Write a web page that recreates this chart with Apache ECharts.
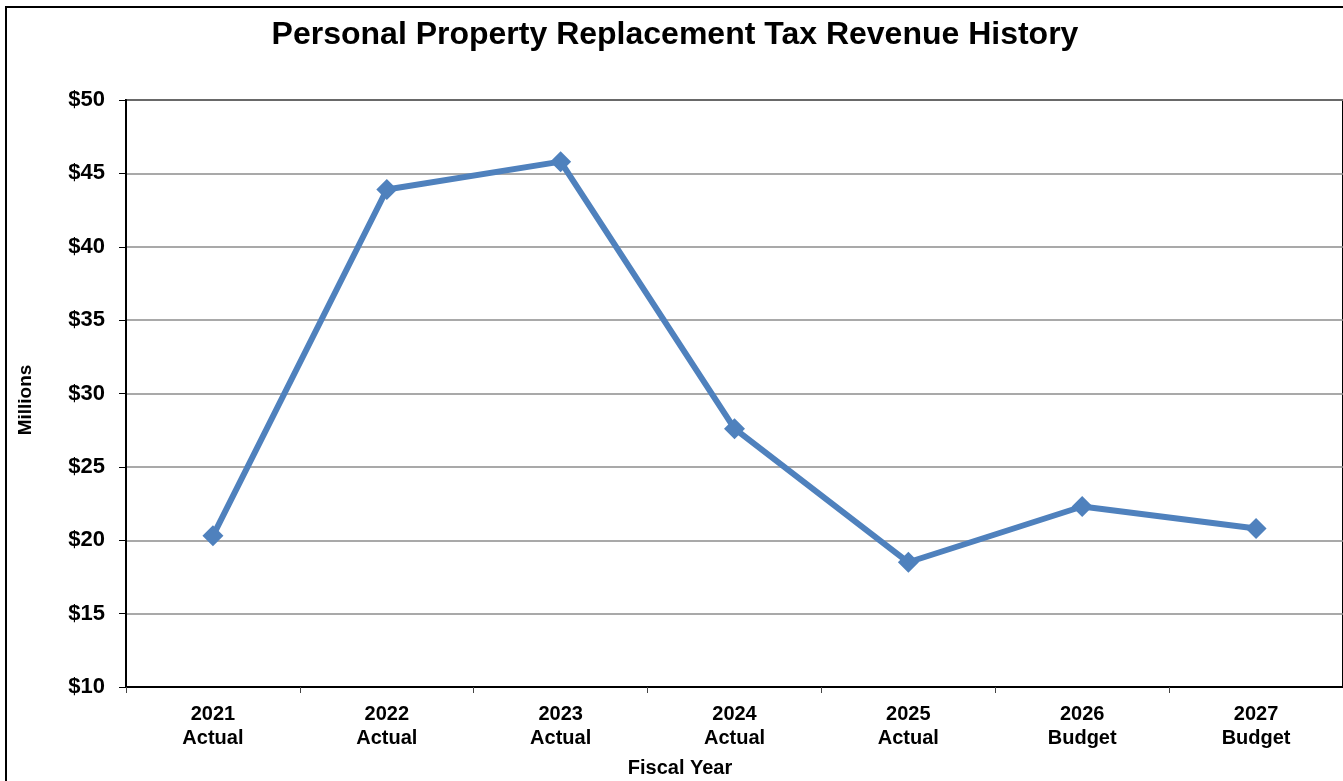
<!DOCTYPE html>
<html><head><meta charset="utf-8">
<script src="https://cdn.jsdelivr.net/npm/echarts@6/dist/echarts.min.js"></script>
<style>html,body{margin:0;padding:0;background:#fff}#c{width:1343px;height:781px}</style>
</head><body><div id="c"></div>
<script>
const categories = ['2021\nActual','2022\nActual','2023\nActual','2024\nActual','2025\nActual','2026\nBudget','2027\nBudget'];
const revenue = [20.3, 43.9, 45.8, 27.6, 18.5, 22.3, 20.8];
const yTicks = [10, 15, 20, 25, 30, 35, 40, 45, 50];

const chart = echarts.init(document.getElementById('c'), null, {renderer:'canvas'});
const FONT = '"Liberation Sans", Arial, sans-serif';
chart.setOption({
  animation: false,
  backgroundColor: '#fff',
  title: {
    text: 'Personal Property Replacement Tax Revenue History',
    left: 670, top: 14, textAlign: 'center',
    textStyle: {fontFamily: FONT, fontWeight: 'bold', fontSize: 32, color: '#000'}
  },
  graphic: [{
    type: 'rect', shape: {x: 6, y: 7, width: 1360, height: 800},
    style: {fill: null, stroke: '#000', lineWidth: 2}, silent: true, z: -1
  }, {
    type: 'text', x: 680, y: 768,
    style: {text: 'Fiscal Year', fontFamily: FONT, fontWeight: 'bold', fontSize: 20, fill: '#000', align: 'center', verticalAlign: 'middle'}
  }, {
    type: 'text', x: 26, y: 400, rotation: Math.PI / 2,
    style: {text: 'Millions', fontFamily: FONT, fontWeight: 'bold', fontSize: 19, fill: '#000', align: 'center', verticalAlign: 'middle'}
  }],
  grid: {left: 126, right: -3, top: 100, bottom: 94, show: true, borderColor: '#000', borderWidth: 2, backgroundColor: 'transparent'},
  xAxis: {
    type: 'category', data: categories, boundaryGap: true,
    axisLine: {lineStyle: {color: '#000', width: 2}},
    axisTick: {show: true, inside: false, length: 6, lineStyle: {color: '#444', width: 1}},
    axisLabel: {fontFamily: FONT, fontWeight: 'bold', fontSize: 20, color: '#000', lineHeight: 24, margin: 15}
  },
  yAxis: {
    type: 'value', min: 10, max: 50, interval: 5,
    axisLine: {show: true, lineStyle: {color: '#000', width: 2}},
    axisTick: {show: true, length: 7, lineStyle: {color: '#000', width: 1}},
    axisLabel: {fontFamily: FONT, fontWeight: 'bold', fontSize: 22, color: '#000', margin: 21,
      formatter: v => '$' + v},
    splitLine: {show: true, lineStyle: {color: '#8c8c8c', width: 1.5}}
  },
  series: [{
    type: 'line', data: revenue,
    lineStyle: {color: '#4F81BD', width: 6},
    itemStyle: {color: '#4F81BD'},
    symbol: 'diamond', symbolSize: 21, showSymbol: true
  }]
});
</script></body></html>
